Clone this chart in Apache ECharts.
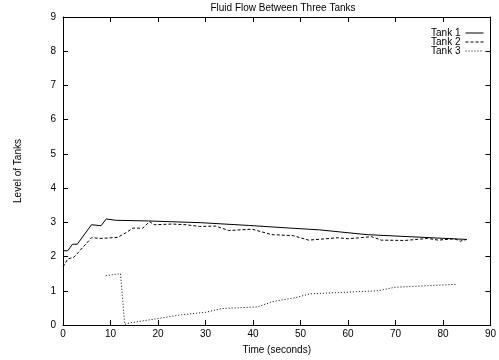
<!DOCTYPE html>
<html>
<head>
<meta charset="utf-8">
<script src="https://cdn.jsdelivr.net/npm/echarts@6/dist/echarts.min.js"></script>
<style>
  html, body { margin: 0; padding: 0; background: #fff; }
  #chart { width: 499px; height: 360px; }
</style>
</head>
<body>
<div id="chart"></div>
<script>
// values: [time, level]
const tank1 = [[0, 2.17], [1, 2.17], [2, 2.36], [3, 2.36], [6, 2.93], [8, 2.9], [9.1, 3.1], [11, 3.06],
  [18, 3.04], [29, 2.99], [39, 2.91], [48, 2.83], [54, 2.78], [64, 2.64], [85, 2.5]]
const tank2 = [[0, 1.7], [1, 1.93], [2.3, 1.98], [6, 2.55], [8, 2.53], [11.5, 2.56], [13.3, 2.7], [14.7, 2.83],
  [16.8, 2.83], [18.2, 3.02], [19.2, 2.93], [23, 2.95], [25.9, 2.93], [28.7, 2.88], [32.2, 2.89], [34.9, 2.76],
  [39.8, 2.8], [44, 2.64], [48.5, 2.61], [51.7, 2.48], [58, 2.55], [60, 2.52], [65, 2.58], [67, 2.48],
  [72, 2.47], [76.8, 2.53], [79, 2.48], [82.4, 2.52], [83.7, 2.45], [85, 2.5]]
const tank3 = [[9, 1.44], [11, 1.48], [12.1, 1.5], [13, 0.02], [14, 0.06], [19.6, 0.18], [25, 0.3], [30, 0.37],
  [33.5, 0.48], [41, 0.53], [44, 0.68], [49, 0.8], [52, 0.91], [60, 0.96], [66.3, 1.0], [69.8, 1.1],
  [75.4, 1.14], [83, 1.19]]
const seriesNames = ['Tank 1', 'Tank 2', 'Tank 3']
const titleText = 'Fluid Flow Between Three Tanks'
const xName = 'Time (seconds)'
const yName = 'Level of Tanks'

const font = 'Liberation Sans'
const chart = echarts.init(document.getElementById('chart'), null, { renderer: 'canvas' })

const tick = { show: true, inside: true, length: 5, lineStyle: { color: '#000', width: 1 } }
const line = { show: true, onZero: false, lineStyle: { color: '#000', width: 1 } }
const label = { color: '#000', fontFamily: font, fontSize: 10 }

const mkSeries = (name, data, type) => ({
  name: name,
  type: 'line',
  data: data,
  symbol: 'none',
  lineStyle: { color: '#000', width: 1, type: type },
  itemStyle: { color: '#000' }
})

chart.setOption({
  animation: false,
  title: {
    text: titleText,
    left: 278,
    textAlign: 'center',
    top: -2,
    textStyle: { fontFamily: font, fontSize: 10, fontWeight: 'normal', color: '#000' }
  },
  legend: {
    data: seriesNames,
    orient: 'vertical',
    right: 15,
    top: 28,
    padding: 0,
    align: 'right',
    itemWidth: 18,
    itemHeight: 8,
    itemGap: -1,
    itemStyle: { opacity: 0 },
    lineStyle: { width: 1 },
    textStyle: { fontFamily: font, fontSize: 10, color: '#000', lineHeight: 8 }
  },
  grid: { left: 63, right: 6, top: 17, bottom: 27 },
  xAxis: [
    {
      type: 'value', min: 0, max: 90, interval: 10,
      name: xName, nameLocation: 'middle', nameGap: 20,
      nameTextStyle: label,
      axisLine: line, axisTick: tick,
      axisLabel: Object.assign({ margin: 4 }, label),
      splitLine: { show: false }
    },
    {
      type: 'value', position: 'top', min: 0, max: 90, interval: 10,
      axisLine: line, axisTick: tick, axisLabel: { show: false }, splitLine: { show: false }
    }
  ],
  yAxis: [
    {
      type: 'value', min: 0, max: 9, interval: 1,
      name: yName, nameLocation: 'middle', nameGap: 40,
      nameTextStyle: label,
      axisLine: line, axisTick: tick,
      axisLabel: Object.assign({ margin: 7 }, label),
      splitLine: { show: false }
    },
    {
      type: 'value', position: 'right', min: 0, max: 9, interval: 1,
      axisLine: line, axisTick: tick, axisLabel: { show: false }, splitLine: { show: false }
    }
  ],
  series: [
    mkSeries(seriesNames[0], tank1, 'solid'),
    mkSeries(seriesNames[1], tank2, [3, 2]),
    mkSeries(seriesNames[2], tank3, [1, 2])
  ]
})
</script>
</body>
</html>
